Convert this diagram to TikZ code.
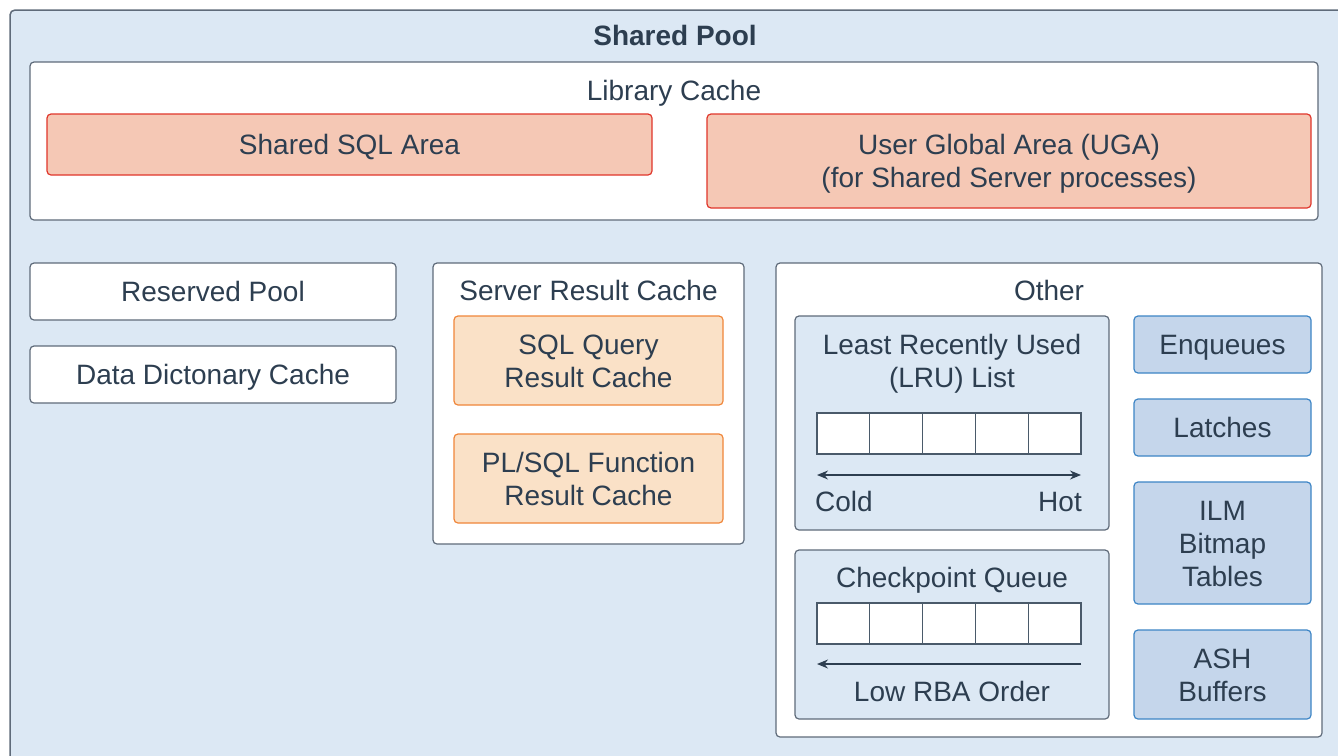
\documentclass[tikz,border=0pt]{standalone}
\usepackage{fontspec}
\setmainfont{Liberation Sans}
\usetikzlibrary{arrows.meta}
\definecolor{txt}{HTML}{2D3E50}
\definecolor{poolfill}{HTML}{DCE8F4}
\definecolor{edge}{HTML}{5F6B7A}
\definecolor{salmonfill}{HTML}{F5C8B5}
\definecolor{salmonedge}{HTML}{E0362B}
\definecolor{orangefill}{HTML}{FAE1C7}
\definecolor{orangeedge}{HTML}{F0863A}
\definecolor{bluefill}{HTML}{C5D6EB}
\definecolor{blueedge}{HTML}{3D85C6}
\definecolor{celledge}{HTML}{4A5A6A}
\begin{document}
\begin{tikzpicture}[x=1pt,y=-1pt,
  every node/.style={text=txt, font=\fontsize{28}{33}\selectfont, text height=20pt, text depth=0pt, inner sep=0pt, align=center},
  twolines/.style={text height=53pt},
  threelines/.style={text height=86pt},
  basebox/.style={rectangle, line width=1.2pt, rounded corners=4pt},
  whitebox/.style={basebox, draw=edge, fill=white},
  paleblue/.style={basebox, draw=edge, fill=poolfill},
  salmonbox/.style={basebox, draw=salmonedge, fill=salmonfill},
  orangebox/.style={basebox, draw=orangeedge, fill=orangefill},
  bluebox/.style={basebox, draw=blueedge, fill=bluefill},
  cellbox/.style={rectangle, draw=celledge, fill=white, line width=1.2pt, minimum width=52.8pt, minimum height=41pt},
  arr/.style={draw=txt, line width=1.2pt, -{Stealth[length=11pt,width=9pt]}}]
\useasboundingbox (0,0) rectangle (1338,755);
\clip (0,0) rectangle (1338,755);
% outer pool
\draw[line width=1.5pt, draw=edge, fill=poolfill, rounded corners=5pt] (10,10) rectangle (1360,780);
\node[font=\fontsize{28}{33}\selectfont\bfseries] (title) at (675,35) {Shared Pool};
% library cache
\node[whitebox, minimum width=1288pt, minimum height=158pt] (lib) at (674,141) {};
\node (libtitle) at (674,90) {Library Cache};
\node[salmonbox, minimum width=605pt, minimum height=61pt] (sqlarea) at (349.5,144.5) {Shared SQL Area};
\node[salmonbox, twolines, minimum width=604pt, minimum height=94pt] (uga) at (1009,161) {User Global Area (UGA)\\(for Shared Server processes)};
% left column
\node[whitebox, minimum width=366pt, minimum height=57pt] (reserved) at (213,291.5) {Reserved Pool};
\node[whitebox, minimum width=366pt, minimum height=57pt] (dict) at (213,374.5) {Data Dictonary Cache};
% server result cache
\node[whitebox, minimum width=311pt, minimum height=281pt] (src) at (588.5,403.5) {};
\node (srctitle) at (588.5,290) {Server Result Cache};
\node[orangebox, twolines, minimum width=269pt, minimum height=89pt] (sqlq) at (588.5,360.5) {SQL Query\\Result Cache};
\node[orangebox, twolines, minimum width=269pt, minimum height=89pt] (plsql) at (588.5,478.5) {PL/SQL Function\\Result Cache};
% other
\node[whitebox, minimum width=546pt, minimum height=474pt] (other) at (1049,500) {};
\node (othertitle) at (1049,290) {Other};
% LRU
\node[paleblue, minimum width=314pt, minimum height=214pt] (lru) at (952,423) {};
\node[twolines] (lrutitle) at (952,360.5) {Least Recently Used\\(LRU) List};
\foreach \i/\cx in {1/843.4,2/896.2,3/949,4/1001.8,5/1054.6}
  \node[cellbox] (lc\i) at (\cx,433.5) {};
\coordinate (lruL) at (817,475);
\coordinate (lruR) at (1081,475);
\draw[arr, {Stealth[length=11pt,width=9pt]}-{Stealth[length=11pt,width=9pt]}] (lruL) -- (lruR);
\node[anchor=west] (cold) at (815,501) {Cold};
\node[anchor=east] (hot) at (1082,501) {Hot};
% checkpoint queue
\node[paleblue, minimum width=314pt, minimum height=169pt] (ckpt) at (952,634.5) {};
\node (ckpttitle) at (952,577) {Checkpoint Queue};
\foreach \i/\cx in {1/843.4,2/896.2,3/949,4/1001.8,5/1054.6}
  \node[cellbox] (cc\i) at (\cx,623.5) {};
\coordinate (ckR) at (1081,664);
\coordinate (ckL) at (817,664);
\draw[arr] (ckR) -- (ckL);
\node (rba) at (952,691) {Low RBA Order};
% right column
\node[bluebox, minimum width=177pt, minimum height=57pt] (enq) at (1222.5,344.5) {Enqueues};
\node[bluebox, minimum width=177pt, minimum height=57pt] (latch) at (1222.5,427.5) {Latches};
\node[bluebox, threelines, minimum width=177pt, minimum height=122pt] (ilm) at (1222.5,543) {ILM\\Bitmap\\Tables};
\node[bluebox, twolines, minimum width=177pt, minimum height=89pt] (ash) at (1222.5,674.5) {ASH\\Buffers};
\end{tikzpicture}
\end{document}
